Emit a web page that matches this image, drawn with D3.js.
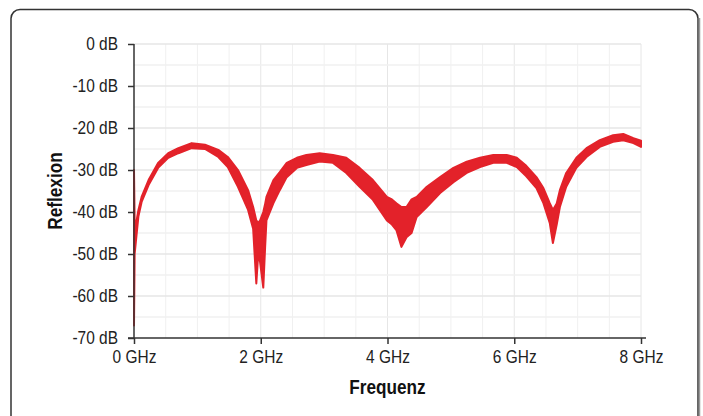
<!DOCTYPE html>
<html>
<head>
<meta charset="utf-8">
<script src="https://cdn.jsdelivr.net/npm/d3@7"></script>
<style>
  body { margin: 0; background: #fff; }
  svg { display: block; }
  .tick text { font-family: "Liberation Sans", Arial, sans-serif; font-size: 18px; fill: #222; }
  .title { font-family: "Liberation Sans", Arial, sans-serif; font-weight: bold; font-size: 20px; fill: #111; }
</style>
</head>
<body>
<div id="chart"></div>
<script>
// frequency points in GHz, with upper and lower edge of the noisy trace (dB)
var freq = [0.00, 0.01, 0.03, 0.07, 0.12, 0.23, 0.38, 0.54, 0.70, 0.91, 1.12, 1.33, 1.48, 1.64, 1.80, 1.88, 1.93, 1.96, 1.99, 2.04, 2.07, 2.09,
            2.20, 2.30, 2.41, 2.57, 2.72, 2.93, 3.14, 3.35, 3.56, 3.77, 3.99, 4.07, 4.14, 4.22, 4.30, 4.38, 4.46, 4.62, 4.83,
            5.04, 5.25, 5.46, 5.67, 5.88, 6.04, 6.19, 6.35, 6.46, 6.56, 6.61, 6.67, 6.72, 6.82, 6.98, 7.14, 7.35, 7.56, 7.72, 7.88, 8.00];
var upper = [-30, -42, -43, -39.5, -36.4, -32.4, -28.3, -26, -24.8, -23.6, -24, -25.2, -26.9, -30, -34.8, -38.8, -42, -42.6, -42, -40, -38, -36.4,
             -32.4, -30.5, -28.3, -27.1, -26.4, -26, -26.4, -27.1, -29.5, -32.4, -36.4, -37, -37.9, -38.8, -38.8, -37, -36.4, -34, -31.7,
             -29.5, -28, -27.1, -26.4, -26.4, -27.1, -29, -31.7, -34.3, -37.9, -39.5, -38, -34.8, -30.7, -27.1, -24.8, -22.9, -21.7, -21.4, -22.4, -23];
var lower = [-67, -50, -47, -41, -37.6, -33.6, -29.5, -27.1, -26, -24.8, -25, -26.9, -29.3, -34, -39.5, -44, -57, -50, -52, -58, -48, -42,
             -37.9, -34.8, -31.7, -29.5, -28.8, -28, -28.3, -30.7, -34, -37.1, -42, -43, -44.3, -48.3, -46, -45, -41.2, -38.8, -35.5,
             -32.9, -30.7, -29.3, -28.3, -28.3, -29.3, -31.5, -34.3, -37.9, -42.6, -47.4, -43, -38.8, -34, -29.5, -26.9, -24.5, -23.3, -22.9, -23.6, -24.5];

var xTicks = [0, 2, 4, 6, 8];
var yTicks = [0, -10, -20, -30, -40, -50, -60, -70];

var width = 703, height = 416;
var margin = {top: 44, left: 134, right: 62, bottom: 78};
var narrow = 0.86; // squeeze text to look like a condensed face

var svg = d3.select("#chart").append("svg")
    .attr("width", width)
    .attr("height", height);

// frame
svg.append("rect")
    .attr("x", 11).attr("y", 9.5)
    .attr("width", 687).attr("height", 440)
    .attr("rx", 9)
    .style("fill", "none")
    .style("stroke", "#333")
    .style("stroke-width", 1.5);
svg.append("line")
    .attr("x1", 699.5).attr("x2", 699.5)
    .attr("y1", 18).attr("y2", height)
    .style("stroke", "#999")
    .style("stroke-width", 1.5);

var x = d3.scaleLinear().domain([0, 8]).range([margin.left, width - margin.right]);
var y = d3.scaleLinear().domain([-70, 0]).range([height - margin.bottom, margin.top]);

// grid
var g = svg.append("g");
g.selectAll("line.gx")
    .data(d3.range(0.5, 8.01, 0.5))
    .enter()
    .append("line")
    .attr("class", "gx")
    .attr("x1", function(d){ return x(d); })
    .attr("x2", function(d){ return x(d); })
    .attr("y1", y(0))
    .attr("y2", y(-70))
    .style("stroke", function(d){ return d % 2 === 0 ? "#e6e6e6" : "#f0f0f0"; })
    .style("stroke-width", 1);
g.selectAll("line.gy")
    .data(d3.range(-65, 0.01, 5))
    .enter()
    .append("line")
    .attr("class", "gy")
    .attr("x1", x(0))
    .attr("x2", x(8))
    .attr("y1", function(d){ return y(d); })
    .attr("y2", function(d){ return y(d); })
    .style("stroke", function(d){ return d % 10 === 0 ? "#e6e6e6" : "#f0f0f0"; })
    .style("stroke-width", 1.5);

// trace
var idx = d3.range(freq.length);
var area = d3.area()
    .x(function(i){ return x(freq[i]); })
    .y0(function(i){ return y(lower[i]); })
    .y1(function(i){ return y(upper[i]); });

svg.append("path")
    .datum(idx)
    .attr("d", area)
    .style("fill", "#e3222a")
    .style("stroke", "#e3222a")
    .style("stroke-width", 2)
    .style("stroke-linejoin", "round");

// axes
var xAxis = d3.axisBottom(x)
    .tickValues(xTicks)
    .tickSize(6)
    .tickPadding(6)
    .tickFormat(function(d){ return d + " GHz"; });
var yAxis = d3.axisLeft(y)
    .tickValues(yTicks)
    .tickSize(6)
    .tickPadding(9)
    .tickFormat(function(d){ return d + " dB"; });

var gx = svg.append("g")
    .attr("transform", "translate(0," + y(-70) + ")")
    .call(xAxis);
var gy = svg.append("g")
    .attr("transform", "translate(" + x(0) + ",0)")
    .call(yAxis);

[gx, gy].forEach(function(a){
    a.select(".domain").style("stroke", "#333").style("stroke-width", 1.5);
    a.selectAll(".tick line").style("stroke", "#333").style("stroke-width", 1.5);
});
gx.select(".domain").attr("d", "M" + (x(0) - 6) + ",0H" + (x(8) + 5));
gy.select(".domain").attr("d", "M0," + y(0) + "V" + y(-70));

gx.selectAll(".tick text")
    .attr("transform", "scale(" + narrow + ",1)");
gy.selectAll(".tick text")
    .attr("x", -16 / narrow)
    .attr("transform", "scale(" + narrow + ",1)");

svg.append("text")
    .attr("class", "title")
    .attr("transform", "translate(" + ((x(0) + x(8)) / 2) + ",394) scale(" + narrow + ",1)")
    .attr("text-anchor", "middle")
    .text("Frequenz");

svg.append("text")
    .attr("class", "title")
    .attr("transform", "translate(62," + y(-35) + ") rotate(-90) scale(" + narrow + ",1)")
    .attr("text-anchor", "middle")
    .text("Reflexion");
</script>
</body>
</html>
